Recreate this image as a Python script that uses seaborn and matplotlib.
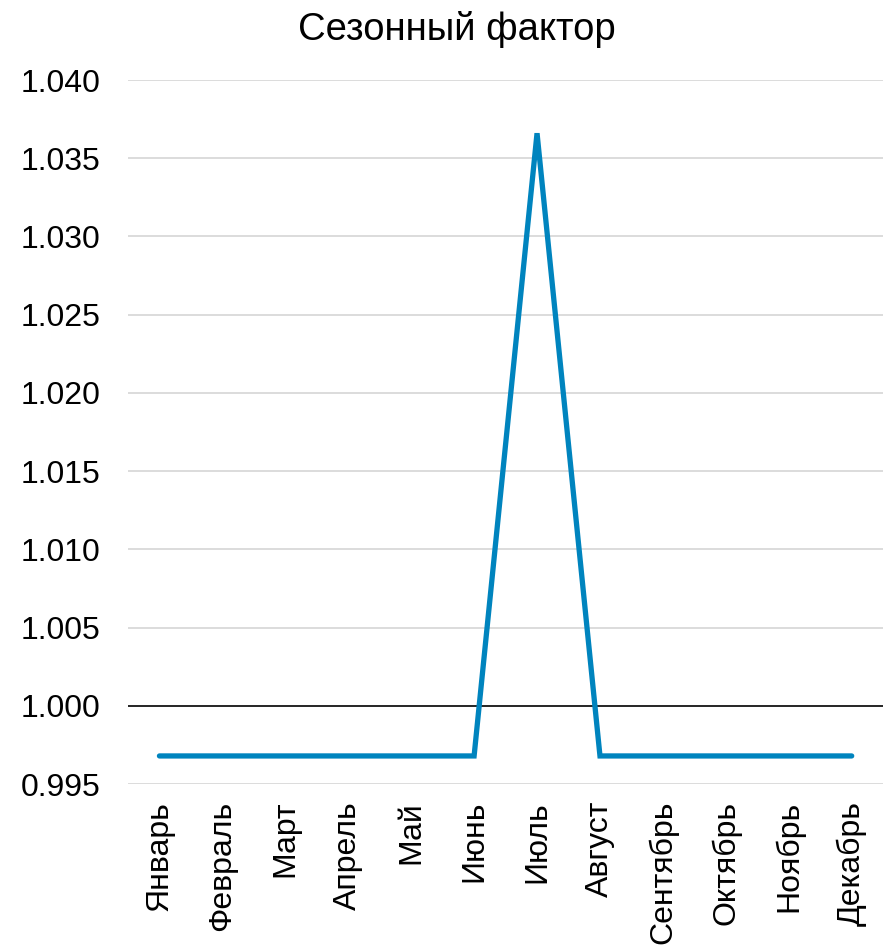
import matplotlib
matplotlib.use("Agg")
import matplotlib.pyplot as plt
import seaborn as sns
import pandas as pd

months = ["Январь", "Февраль", "Март", "Апрель", "Май", "Июнь",
          "Июль", "Август", "Сентябрь", "Октябрь", "Ноябрь", "Декабрь"]
factor = [0.9968, 0.9968, 0.9968, 0.9968, 0.9968, 0.9968,
          1.0366, 0.9968, 0.9968, 0.9968, 0.9968, 0.9968]
y_ticks = [0.995, 1.000, 1.005, 1.010, 1.015, 1.020, 1.025, 1.030, 1.035, 1.040]

sns.set_theme(style="white")
plt.rcParams["font.family"] = ["Liberation Sans", "DejaVu Sans"]
plt.rcParams["text.color"] = "black"
plt.rcParams["xtick.color"] = "black"
plt.rcParams["ytick.color"] = "black"

df = pd.DataFrame({"month": months, "factor": factor, "pos": range(len(months))})

fig = plt.figure(figsize=(8.93, 9.47), dpi=100)
ax = fig.add_axes([0.1433, 0.172, 0.8457, 0.7435])

for t in y_ticks:
    if abs(t - 1.0) > 1e-9:
        ax.axhline(t, color="#d9d9d9", lw=1.3, zorder=0)
ax.axhline(1.0, color="black", lw=1.2, zorder=1)

sns.lineplot(data=df, x="pos", y="factor", ax=ax, color="#0084be", lw=3.8,
             solid_capstyle="round", solid_joinstyle="miter", zorder=3)

ax.set_xlim(-0.5, len(months) - 0.5)
ax.set_ylim(0.995, 1.040)
ax.set_yticks(y_ticks)
ax.set_yticklabels([f"{t:.3f}" for t in y_ticks], fontsize=23)
ax.set_xticks(range(len(months)))
ax.set_xticklabels(months, rotation=90, fontsize=23)
ax.tick_params(axis="both", length=0)
ax.tick_params(axis="x", pad=12)
ax.tick_params(axis="y", pad=20)
ax.set_xlabel("")
ax.set_ylabel("")
for s in ax.spines.values():
    s.set_visible(False)

fig.text(457 / 893, 1 - 40 / 947, "Сезонный фактор", fontsize=27.5,
         ha="center", va="baseline", color="black")

fig.savefig("out.png", dpi=100)
